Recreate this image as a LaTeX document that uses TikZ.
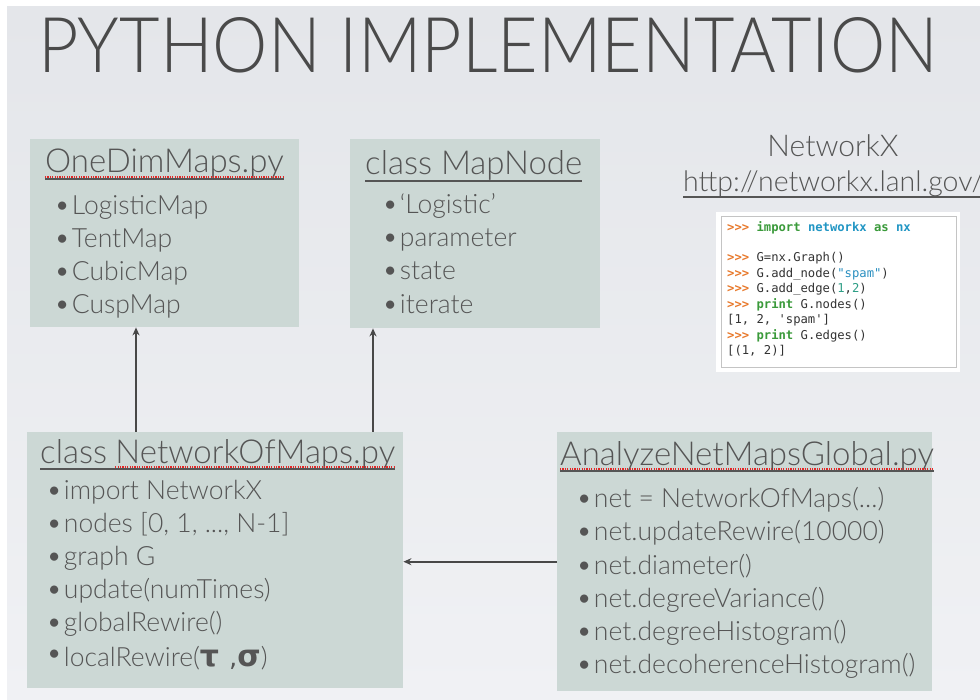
\documentclass[tikz,border=0pt]{standalone}
\usepackage{fontspec}
\setmainfont{Lato Light}
\newfontfamily\codefont{DejaVu Sans Mono}
\newfontfamily\greekfont{DejaVu Sans}
\usetikzlibrary{arrows.meta,calc}

\definecolor{slidetop}{HTML}{E4E6EA}
\definecolor{slidebot}{HTML}{F0F1F4}
\definecolor{boxfill}{HTML}{CCD8D5}
\definecolor{ink}{HTML}{555555}
\definecolor{titleink}{HTML}{4A4A4A}
\definecolor{arrowink}{HTML}{484848}
\definecolor{prompt}{HTML}{E8782A}
\definecolor{kw}{HTML}{3A9A3A}
\definecolor{ident}{HTML}{2196C4}
\definecolor{strc}{HTML}{2A8FC0}
\definecolor{numc}{HTML}{2E9E86}
\definecolor{codeink}{HTML}{333333}
\definecolor{spell}{HTML}{E52525}
\definecolor{codeframe}{HTML}{C4C4C4}

\newcommand{\pr}{{\color{prompt}\bfseries >{}>{}>} }
\newcommand{\kwd}[1]{{\color{kw}\bfseries #1}}
\newcommand{\idt}[1]{{\color{ident}\bfseries #1}}
\newcommand{\bul}{{\fontsize{28}{28}\selectfont\textbullet}\hspace{1.5pt}}

\begin{document}
\begin{tikzpicture}[x=1pt,y=-1pt,
  pane/.style={fill=boxfill, draw=none, inner sep=0, anchor=north west},
  heading/.style={anchor=base west, inner sep=0, text=ink, font=\fontsize{33}{33}\selectfont},
  item/.style={anchor=base west, inner sep=0, text=ink, font=\fontsize{26.5}{26.5}\selectfont},
  codeline/.style={anchor=base west, inner sep=0, text=codeink, font=\codefont\fontsize{12.2}{12.2}\selectfont},
  uline/.style={draw=ink, line width=1.4pt},
  spellmark/.style={draw=spell, line width=1.3pt, dash pattern=on 1.2pt off 1.2pt},
  arr/.style={draw=arrowink, line width=1.6pt, -{Stealth[length=8pt,width=7pt]}}]

% slide background
\useasboundingbox (0,0) rectangle (980,700);
\clip (0,0) rectangle (980,700);
\fill[white] (0,0) rectangle (980,700);
\shade[top color=slidetop, bottom color=slidebot] (7,7) rectangle (980,700);

% title
\node[anchor=base west, inner sep=0, text=titleink] (title) at (38,73)
  {\resizebox{900pt}{55pt}{\fontsize{75}{75}\selectfont PYTHON IMPLEMENTATION}};

% ---- OneDimMaps.py
\node[pane, minimum width=269pt, minimum height=188pt] (one) at (30,139) {};
\node[heading] (oneh) at (45,173) {OneDimMaps.py};
\draw[uline] ([yshift=-6pt]oneh.base west) -- ([yshift=-6pt]oneh.base east);
\draw[spellmark] ([yshift=-4pt]oneh.base west) -- ([yshift=-4pt]oneh.base east);
\node[item] (one1) at (54,215) {\bul LogisticMap};
\node[item] (one2) at (54,248) {\bul TentMap};
\node[item] (one3) at (54,281) {\bul CubicMap};
\node[item] (one4) at (54,314) {\bul CuspMap};

% ---- class MapNode
\node[pane, minimum width=250pt, minimum height=189pt] (mapnode) at (350,139) {};
\node[heading] (mnh) at (365,175) {class MapNode};
\draw[uline] ([yshift=-6pt]mnh.base west) -- ([yshift=-6pt]mnh.base east);
\node[item] (mn1) at (382,214) {\bul ‘Logistic’};
\node[item] (mn2) at (382,247) {\bul parameter};
\node[item] (mn3) at (382,280) {\bul state};
\node[item] (mn4) at (382,314) {\bul iterate};

% ---- class NetworkOfMaps.py
\node[pane, minimum width=376pt, minimum height=256pt] (net) at (27,432) {};
\node[heading] (neth1) at (40,463) {class};
\node[heading] (neth2) at ([xshift=8pt]neth1.base east) {NetworkOfMaps.py};
\draw[uline] ([yshift=-6pt]neth1.base west) -- ([yshift=-6pt]neth2.base east);
\draw[spellmark] ([yshift=-4pt]neth2.base west) -- ([yshift=-4pt]neth2.base east);
\node[item] (net1) at (46,499) {\bul import NetworkX};
\node[item] (net2) at (46,532) {\bul nodes [0, 1, ..., N-1]};
\node[item] (net3) at (46,565) {\bul graph G};
\node[item] (net4) at (46,598) {\bul update(numTimes)};
\node[item] (net5) at (46,631) {\bul globalRewire()};
\node[item] (net6) at (46,666) {\raisebox{4pt}{\fontsize{28}{28}\selectfont\textbullet}\hspace{1.5pt}localRewire({\greekfont\bfseries\fontsize{30}{30}\selectfont τ\,\,}{\greekfont\fontsize{26}{26}\selectfont ,}{\greekfont\bfseries\fontsize{30}{30}\selectfont σ})};

% ---- AnalyzeNetMapsGlobal.py
\node[pane, minimum width=375pt, minimum height=259pt] (an) at (557,432) {};
\node[heading] (anh) at (560,465) {AnalyzeNetMapsGlobal.py};
\draw[uline] ([yshift=-6pt]anh.base west) -- ([yshift=-6pt]anh.base east);
\draw[spellmark] ([yshift=-4pt]anh.base west) -- ([yshift=-4pt]anh.base east);
\node[item] (an1) at (576,507) {\bul net = NetworkOfMaps(...)};
\node[item] (an2) at (576,540) {\bul net.updateRewire(10000)};
\node[item] (an3) at (576,574) {\bul net.diameter()};
\node[item] (an4) at (576,607) {\bul net.degreeVariance()};
\node[item] (an5) at (576,640) {\bul net.degreeHistogram()};
\node[item] (an6) at (576,673) {\bul net.decoherenceHistogram()};

% ---- connectors
\draw[arr] ([xshift=109pt]net.north west) -- ([xshift=106pt]one.south west);
\draw[arr] ([xshift=346pt]net.north west) -- ([xshift=23pt]mapnode.south west);
\draw[arr] (an.west) -- (an.west -| net.east);

% ---- NetworkX reference
\node[anchor=base, inner sep=0, text=ink, font=\fontsize{30}{30}\selectfont] (nxname) at (833,157) {NetworkX};
\node[anchor=base west, inner sep=0, text=ink, font=\fontsize{28.5}{28.5}\selectfont] (nxurl) at (683,192) {http://networkx.lanl.gov/};
\draw[draw=ink, line width=1.3pt] ([yshift=-5pt]nxurl.base west) -- ([yshift=-5pt]nxurl.base east);

% ---- code sample
\node[fill=white, inner sep=0, anchor=north west, minimum width=244pt, minimum height=160pt] (codebg) at (716,212) {};
\node[draw=codeframe, line width=0.8pt, inner sep=0, anchor=north west, minimum width=235pt, minimum height=151pt] (codeframe) at (721,216) {};
\node[codeline] (c1) at (727,232) {\pr\kwd{import} \idt{networkx} \kwd{as} \idt{nx}};
\node[codeline] (c2) at (727,262) {\pr G=nx.Graph()};
\node[codeline] (c3) at (727,277.5) {\pr G.add\_node({\color{strc}"spam"})};
\node[codeline] (c4) at (727,293) {\pr G.add\_edge({\color{numc}1},{\color{numc}2})};
\node[codeline] (c5) at (727,308.5) {\pr\kwd{print} G.nodes()};
\node[codeline] (c6) at (727,324) {[1, 2, 'spam']};
\node[codeline] (c7) at (727,339.5) {\pr\kwd{print} G.edges()};
\node[codeline] (c8) at (727,355) {[(1, 2)]};
\end{tikzpicture}
\end{document}
